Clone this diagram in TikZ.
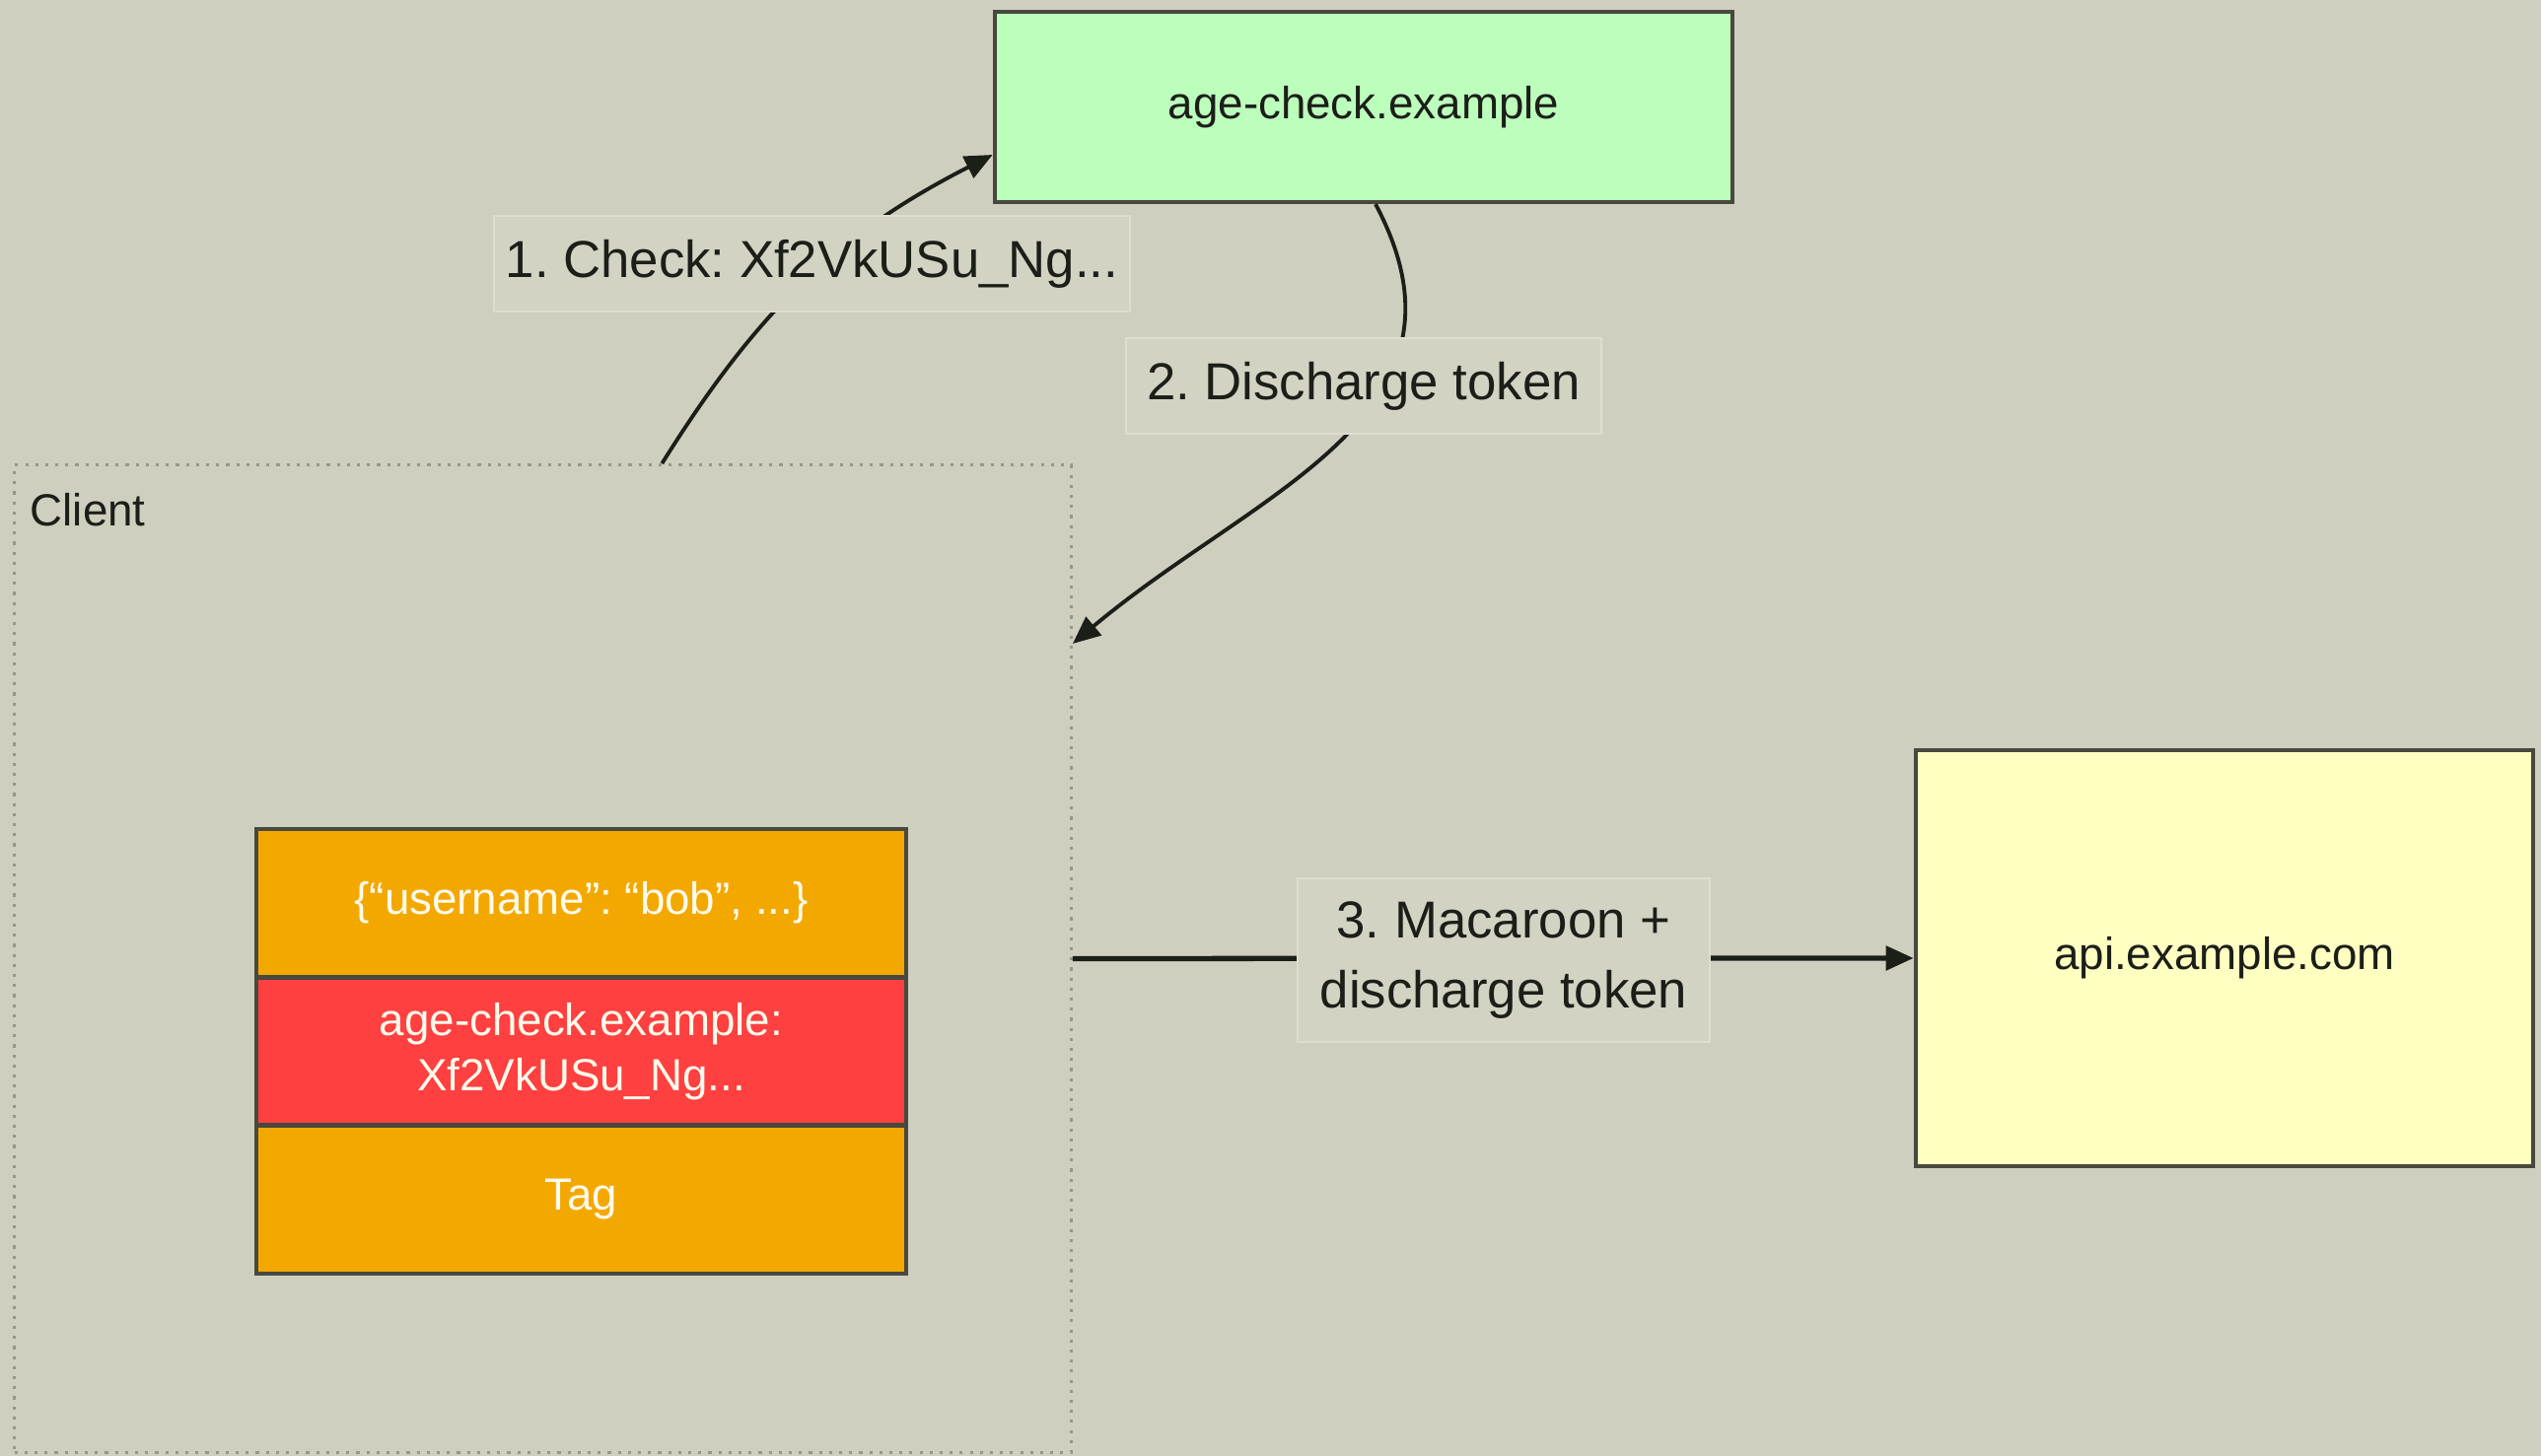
\documentclass[tikz,border=0pt]{standalone}
\usepackage{fontspec}
\setmainfont{Liberation Sans}
\usetikzlibrary{arrows.meta,calc}
\frenchspacing

\definecolor{canvas}{RGB}{207,207,191}
\definecolor{edge}{RGB}{72,72,62}
\definecolor{ink}{RGB}{28,30,24}
\definecolor{serverA}{RGB}{188,254,188}
\definecolor{serverB}{RGB}{255,255,194}
\definecolor{caveat}{RGB}{243,168,0}
\definecolor{thirdparty}{RGB}{254,64,64}
\definecolor{labelfill}{RGB}{211,211,196}
\definecolor{labeledge}{RGB}{221,221,208}
\definecolor{groupedge}{RGB}{150,150,138}
\definecolor{fieldtext}{RGB}{255,250,235}

\tikzset{
  server/.style={draw=edge, line width=1.2pt, text=ink,
    font=\fontsize{13}{16}\selectfont, inner sep=0pt},
  field/.style={draw=edge, line width=1.2pt, text=fieldtext, align=center,
    minimum width=6.59cm, minimum height=1.5cm,
    font=\fontsize{13}{16}\selectfont, inner sep=0pt},
  steplabel/.style={fill=labelfill, draw=labeledge, line width=0.6pt,
    text=ink, align=center, inner sep=0pt,
    font=\fontsize{15}{20}\selectfont},
  flow/.style={draw=ink, line width=1.1pt,
    -{Triangle[length=0.28cm,width=0.24cm]}},
}

\begin{document}
\begin{tikzpicture}[x=0.01cm,y=0.01cm]
  % canvas
  \fill[canvas] (0,0) rectangle (2577,1477);
  \useasboundingbox (0,0) rectangle (2577,1477);

  % client group
  \node[draw=groupedge, dotted, line width=0.9pt,
        minimum width=10.71cm, minimum height=10.01cm, inner sep=0pt]
        (client) at (550.5,504.5) {};
  \node[anchor=north west, text=ink, font=\fontsize{13}{16}\selectfont,
        inner sep=0pt] (clientname) at (30,977) {Client};

  % macaroon fields
  \node[field, fill=caveat] (body) at (589.5,561) {\{“username”: “bob”, ...\}};
  \node[field, fill=thirdparty] (tpc) at (589.5,410.5)
        {age-check.example:\\Xf2VkUSu\_Ng...};
  \node[field, fill=caveat] (tag) at (589.5,260) {Tag};

  % services
  \node[server, fill=serverA, minimum width=7.48cm, minimum height=1.93cm]
        (agecheck) at (1383,1368.5) {age-check.example};
  \node[server, fill=serverB, minimum width=6.26cm, minimum height=4.22cm]
        (api) at (2256,505) {api.example.com};

  % connection points
  \coordinate (c1) at ($(client.north west)!0.6125!(client.north east)$);
  \coordinate (a1) at ($(agecheck.north west)!0.746!(agecheck.south west)$);
  \coordinate (a2) at ($(agecheck.south west)!0.516!(agecheck.south east)$);
  \coordinate (c2) at ($(client.north east)!0.182!(client.south east)$);

  % flows
  \draw[flow] (c1) to[out=58, in=207] (a1);
  \draw[flow] (a2) to[out=-62, in=40, looseness=1.15] (c2);
  \draw[flow, line width=1.5pt] (client.east) -- (api.west);

  % step labels
  \node[steplabel, minimum width=6.45cm, minimum height=0.97cm]
        (l1) at (823.5,1209.5) {1. Check: Xf2VkUSu\_Ng...};
  \node[steplabel, minimum width=4.82cm, minimum height=0.97cm]
        (l2) at (1383,1085.5) {2. Discharge token};
  \node[steplabel, minimum width=4.18cm, minimum height=1.66cm]
        (l3) at (1525,503) {3. Macaroon +\\discharge token};
\end{tikzpicture}
\end{document}
